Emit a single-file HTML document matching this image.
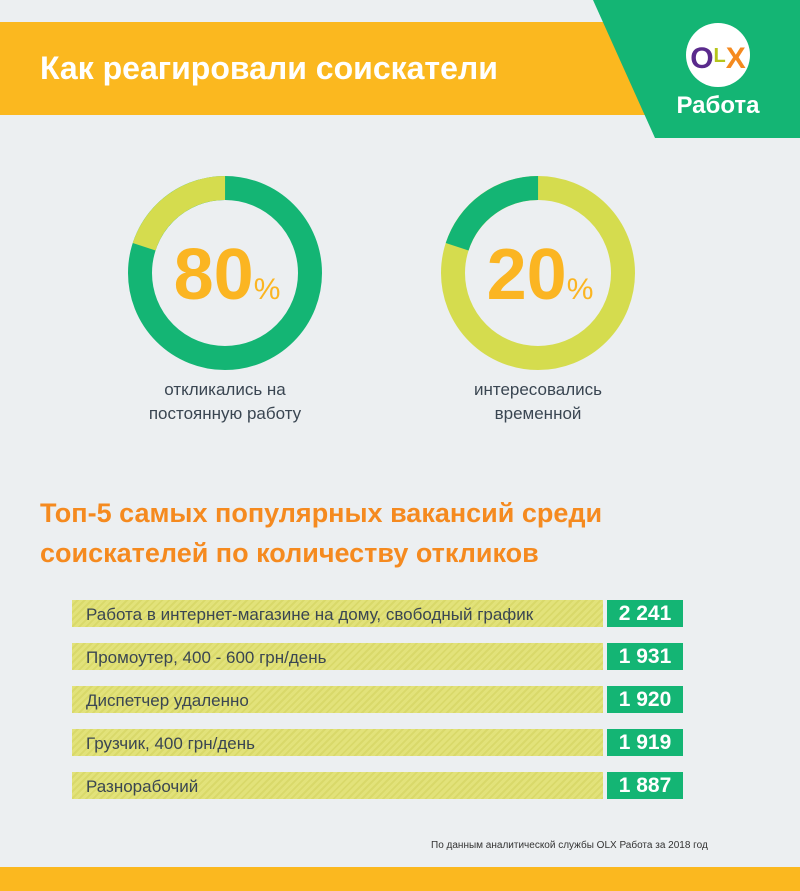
<!DOCTYPE html>
<html><head><meta charset="utf-8"><style>
body{margin:0;width:800px;height:891px;background:#eceff1;position:relative;overflow:hidden;font-family:"Liberation Sans","DejaVu Sans",sans-serif}
.abs{position:absolute}
.bar{position:absolute;left:72px;width:531px;height:27px;background:repeating-linear-gradient(135deg,#e2e27a 0 3px,#d9d96a 3px 5px);color:#3a4652;font-size:17px;line-height:29px;padding-left:14px;box-sizing:border-box}
.num{position:absolute;left:607px;width:76px;height:27px;background:#14b574;color:#fff;font-weight:bold;font-size:21px;line-height:28px;text-align:center}
.lbl{position:absolute;width:240px;text-align:center;color:#3a4652;font-size:17px;line-height:24px}
.big{position:absolute;width:240px;text-align:center;color:#fbb522;font-weight:bold;font-size:72px;line-height:70px}
.big span{font-size:30px;font-weight:normal}
</style></head><body>
<div class="abs" style="left:0;top:22px;width:700px;height:93px;background:#fbb81f"></div>
<div class="abs" style="left:40px;top:48px;color:#fff;font-size:32px;font-weight:bold;line-height:40px">Как реагировали соискатели</div>
<svg class="abs" style="left:0;top:0" width="800" height="891">
<polygon points="593,0 800,0 800,138 655,138" fill="#14b574"/>
<circle cx="718" cy="55" r="32" fill="#fff"/>
<text x="718" y="68" text-anchor="middle" font-family="Liberation Sans" font-weight="bold" font-size="30"><tspan fill="#5a2a8c">O</tspan><tspan fill="#b5c51a" font-size="20" dy="-6">L</tspan><tspan fill="#f58a1f" dy="6">X</tspan></text>
<text x="718" y="113" text-anchor="middle" fill="#fff" font-family="Liberation Sans" font-weight="bold" font-size="24">Работа</text>
<g fill="none" stroke-width="24">
<circle cx="225" cy="273" r="85" stroke="#14b574"/>
<circle cx="225" cy="273" r="85" stroke="#d5dc4e" stroke-dasharray="106.8 500" transform="rotate(-162 225 273)"/>
<circle cx="538" cy="273" r="85" stroke="#d5dc4e"/>
<circle cx="538" cy="273" r="85" stroke="#14b574" stroke-dasharray="106.8 500" transform="rotate(-162 538 273)"/>
</g>
</svg>
<div class="big" style="left:107px;top:240px">80<span>%</span></div>
<div class="big" style="left:420px;top:240px">20<span>%</span></div>
<div class="lbl" style="left:105px;top:378px">откликались на<br>постоянную работу</div>
<div class="lbl" style="left:418px;top:378px">интересовались<br>временной</div>
<div class="abs" style="left:40px;top:493px;color:#f58a1f;font-weight:bold;font-size:27px;line-height:40px">Топ-5 самых популярных вакансий среди<br>соискателей по количеству откликов</div>
<div class="bar" style="top:600px">Работа в интернет-магазине на дому, свободный график</div><div class="num" style="top:600px">2 241</div>
<div class="bar" style="top:643px">Промоутер, 400 - 600 грн/день</div><div class="num" style="top:643px">1 931</div>
<div class="bar" style="top:686px">Диспетчер удаленно</div><div class="num" style="top:686px">1 920</div>
<div class="bar" style="top:729px">Грузчик, 400 грн/день</div><div class="num" style="top:729px">1 919</div>
<div class="bar" style="top:772px">Разнорабочий</div><div class="num" style="top:772px">1 887</div>
<div class="abs" style="left:431px;top:840px;font-size:10px;color:#333">По данным аналитической службы OLX Работа за 2018 год</div>
<div class="abs" style="left:0;top:867px;width:800px;height:24px;background:#fbb81f"></div>
</body></html>
